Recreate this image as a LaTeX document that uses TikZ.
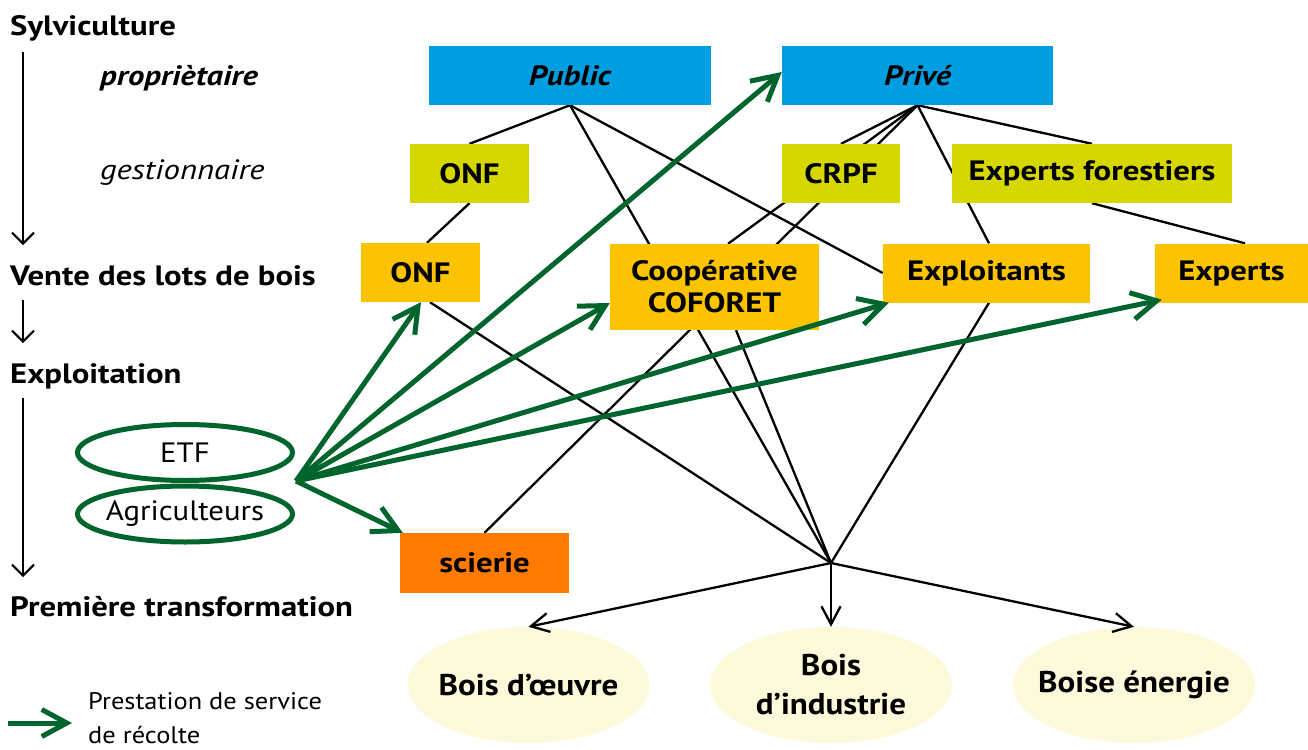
\documentclass[tikz,border=0pt]{standalone}
\usepackage{fontspec}
\setmainfont{PT Sans}[FakeStretch=1.1]
\newfontfamily\grasfam{PT Sans}[FakeStretch=1.17]
\usetikzlibrary{arrows.meta, shapes.geometric, backgrounds}

\definecolor{bleu}{RGB}{0,158,224}
\definecolor{gestcol}{RGB}{215,215,0}
\definecolor{ventecol}{RGB}{251,195,0}
\definecolor{sciecol}{RGB}{255,122,0}
\definecolor{creme}{RGB}{255,249,219}
\definecolor{vert}{RGB}{0,100,45}

\begin{document}
\begin{tikzpicture}[x=1pt, y=-1pt,
  every node/.style={font=\fontsize{28}{32}\selectfont},
  etape/.style={line width=2pt, -{Straight Barb[length=11pt,width=22pt]}},
  lien/.style={line width=2.3pt},
  sortie/.style={line width=2.3pt, -{Straight Barb[length=18pt,width=19pt]}},
  prest/.style={line width=5pt, draw=vert, -{Straight Barb[length=25pt,width=27pt]}},
  case/.style={rectangle, inner sep=0pt, minimum height=59pt, align=center, font=\fontsize{28}{32}\selectfont\grasfam\bfseries},
  produit/.style={ellipse, fill=creme, inner xsep=-35pt, inner ysep=-20pt, minimum width=242pt, minimum height=116pt, align=center, font=\fontsize{30}{39}\selectfont\bfseries},
  acteur/.style={ellipse, draw=vert, line width=5pt, fill=white, inner xsep=-25pt, inner ysep=-5pt, minimum width=215pt, minimum height=56pt},
  etiq/.style={anchor=base west, inner sep=0pt, font=\fontsize{28}{32}\selectfont\grasfam\bfseries}]

\useasboundingbox (0,0) rectangle (1308,749);

% Stages on the left
\node[etiq] at (10,36) (sylv) {Sylviculture};
\node[etiq, font=\fontsize{28}{32}\selectfont\grasfam\bfseries\itshape] at (100,86) (prop) {propriètaire};
\node[etiq, font=\fontsize{28}{32}\selectfont\grasfam\itshape] at (100,179) (gest) {gestionnaire};
\node[etiq] at (10,285) (vente) {Vente des lots de bois};
\node[etiq] at (10,383) (lexpl) {Exploitation};
\node[etiq] at (10,616) (prem) {Première transformation};

\coordinate (s1) at (23,52);
\coordinate (s2) at (23,245);
\coordinate (s3) at (23,300);
\coordinate (s4) at (23,343);
\coordinate (s5) at (23,398);
\coordinate (s6) at (23,577);
\draw[etape] (s1) -- (s2);
\draw[etape] (s3) -- (s4);
\draw[etape] (s5) -- (s6);

% Owners
\node[case, fill=bleu, minimum width=282pt, font=\fontsize{28}{32}\selectfont\grasfam\bfseries\itshape] at (570,75.5) (pub) {Public};
\node[case, fill=bleu, minimum width=271pt, font=\fontsize{28}{32}\selectfont\grasfam\bfseries\itshape] at (917.5,75.5) (priv) {Privé};

% Managers
\node[case, fill=gestcol, minimum width=119pt] at (469.5,173.5) (onfg) {ONF};
\node[case, fill=gestcol, minimum width=118pt] at (841,173.5) (crpf) {CRPF};
\node[case, fill=gestcol, minimum width=280pt] at (1092,173.5) (expf) {Experts forestiers};

% Sellers
\node[case, fill=ventecol, minimum width=119pt] at (420.5,272.5) (onfv) {ONF};
\node[case, fill=ventecol, minimum width=209pt, minimum height=86pt] at (714.5,287) (coop) {Coopérative\\COFORET};
\node[case, fill=ventecol, minimum width=207pt] at (986.5,273) (exploit) {Exploitants};
\node[case, fill=ventecol, minimum width=153pt] at (1231.5,273) (experts) {Experts};

% Sawmill
\node[case, fill=sciecol, minimum width=169pt, minimum height=60pt] at (484.5,563) (scierie) {scierie};

% Harvest contractors
\node[acteur] at (185,452.5) (etf) {ETF};
\node[acteur] at (185,514) (agri) {Agriculteurs};
\coordinate (etfhub) at (296,481);

% Products
\node[produit] at (528.5,685) (oeuvre) {Bois d’œuvre};
\node[produit] at (831,685) (indus) {Bois\\d’industrie};
\node[produit] at (1134,685) (energie) {Boise énergie};
\coordinate (hub) at (831,563);

% Links behind the boxes
\begin{scope}[on background layer]
\draw[lien] (pub.south) -- (onfg.north);
\draw[lien] (pub.south) -- (hub);
\draw[lien] (pub.south) -- (exploit.west);
\draw[lien] (onfg.south) -- ([xshift=6.5]onfv.north);
\draw[lien] ([xshift=9.5]onfv.south) -- (hub);
\draw[lien] (priv.south) -- (crpf.north);
\draw[lien] (priv.south) -- ([xshift=13.5]coop.north);
\draw[lien] (priv.south) -- (scierie.north);
\draw[lien] (priv.south) -- ([xshift=2.5]exploit.north);
\draw[lien] (priv.south) -- (expf.north);
\draw[lien] (expf.south) -- ([xshift=13.5]experts.north);
\draw[lien] ([xshift=2.5]exploit.south) -- (hub);
\draw[lien] ([xshift=21.5]coop.south) -- (hub);
\end{scope}

% Hub to products
\foreach \prod in {oeuvre,indus,energie} {
  \draw[sortie] (hub) -- (\prod.north);
}

% Harvest service
\draw[prest] (etfhub) -- ([xshift=0.5]onfv.south);
\draw[prest] (etfhub) -- ([yshift=3.5]priv.west);
\draw[prest] (etfhub) -- ([yshift=-16]coop.west);
\draw[prest] (etfhub) -- ([xshift=6]exploit.south west);
\draw[prest] (etfhub) -- ([xshift=7,yshift=3]experts.south west);
\draw[prest] (etfhub) -- ([xshift=3]scierie.north west);

% Legend
\coordinate (l1) at (8,723);
\coordinate (l2) at (72,723);
\draw[prest] (l1) -- (l2);
\node[anchor=west, inner sep=0pt, align=left, font=\fontsize{24}{34}\selectfont] at (88,718) (leg) {Prestation de service\\de récolte};

\end{tikzpicture}
\end{document}
